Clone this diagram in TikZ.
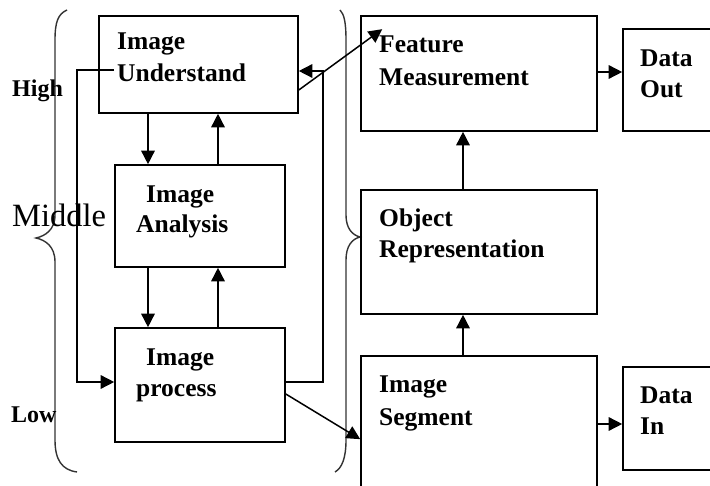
\documentclass[tikz,border=0pt]{standalone}
\usepackage{fontspec}
\setmainfont{Liberation Serif}
\usetikzlibrary{arrows.meta}
\tikzset{
  box/.style={draw=black, line width=1.6pt, inner sep=0pt, fill=none},
  lbl/.style={font=\bfseries\fontsize{25.5}{30}\selectfont, anchor=base west, inner sep=0pt, text=black},
  side/.style={font=\bfseries\fontsize{24}{28}\selectfont, anchor=base west, inner sep=0pt, text=black},
  sidemid/.style={font=\fontsize{32.5}{38}\selectfont, anchor=base west, inner sep=0pt, text=black},
  arr/.style={draw=black, line width=1.5pt, -{Triangle[length=13.5pt,width=13.5pt]}},
  brace/.style={draw=black!80, line width=1.4pt},
}
\begin{document}
\begin{tikzpicture}[x=1pt,y=-1pt]
\useasboundingbox (0,0) rectangle (710,486);
\clip (0,0) rectangle (710,486);
\fill[white] (0,0) rectangle (710,486);

% braces
\draw[brace] (67,10) .. controls (58,14) and (55,22) .. (55,40) -- (55,215)
  .. controls (55,230) and (45,236) .. (36,238)
  .. controls (45,240) and (55,246) .. (55,262) -- (55,440)
  .. controls (55,460) and (62,470) .. (77,472);
\draw[brace] (340,10) .. controls (344,14) and (346,22) .. (346,40) -- (346,215)
  .. controls (346,228) and (352,235) .. (360,237)
  .. controls (352,239) and (346,246) .. (346,260) -- (346,440)
  .. controls (346,458) and (342,468) .. (335,472);

% boxes
\node[box, minimum width=199pt, minimum height=97pt] (und) at (198.5,64.5) {};
\node[box, minimum width=170pt, minimum height=102pt] (ana) at (200,216) {};
\node[box, minimum width=170pt, minimum height=114pt] (proc) at (200,385) {};
\node[box, minimum width=236pt, minimum height=115pt] (feat) at (479,73.5) {};
\node[box, minimum width=97pt, minimum height=102pt] (out) at (671.5,80) {};
\node[box, minimum width=236pt, minimum height=124pt] (obj) at (479,252) {};
\node[box, minimum width=236pt, minimum height=144pt] (seg) at (479,428) {};
\node[box, minimum width=97pt, minimum height=103pt] (din) at (671.5,418.5) {};

% texts
\node[lbl] (t1a) at (117,50) {Image};
\node[lbl] (t1b) at (117,82) {Understand};
\node[lbl] (t2a) at (146,203) {Image};
\node[lbl] (t2b) at (136,233) {Analysis};
\node[lbl] (t3a) at (146,366) {Image};
\node[lbl] (t3b) at (136,396) {process};
\node[lbl] (t4a) at (379,53) {Feature};
\node[lbl] (t4b) at (379,86) {Measurement};
\node[lbl] (t5a) at (640,67) {Data};
\node[lbl] (t5b) at (640,98) {Out};
\node[lbl] (t6a) at (379,227) {Object};
\node[lbl] (t6b) at (379,258) {Representation};
\node[lbl] (t7a) at (379,393) {Image};
\node[lbl] (t7b) at (379,425) {Segment};
\node[lbl] (t8a) at (640,403) {Data};
\node[lbl] (t8b) at (640,435) {In};
\node[side] (high) at (12,97) {High};
\node[sidemid] (mid) at (12,227) {Middle};
\node[side] (low) at (11,423) {Low};

% helper coordinates
\coordinate (c148) at (148,0);
\coordinate (c218) at (218,0);
\coordinate (c463) at (463,0);
\coordinate (c72) at (0,72);
\coordinate (c424) at (0,424);
\coordinate (lx) at (77,0);
\coordinate (rx) at (323,0);
\coordinate (lstart) at (114,70);
\coordinate (pin) at ([yshift=3pt]proc.west);
\coordinate (pout) at ([yshift=3pt]proc.east);
\coordinate (uin) at ([yshift=-6.5pt]und.east);

% connectors
\draw[arr] (und.south -| c148) -- (ana.north -| c148);
\draw[arr] (ana.north -| c218) -- (und.south -| c218);
\draw[arr] (ana.south -| c148) -- (proc.north -| c148);
\draw[arr] (proc.north -| c218) -- (ana.south -| c218);
\draw[arr] (lstart) -| (lx |- pin) -- (pin);
\draw[arr] (pout) -| (rx |- uin) -- (uin);
\draw[arr] ([yshift=-25.5pt]und.east) -- ([xshift=22pt,yshift=-14pt]feat.north west);
\draw[arr] ([yshift=-9pt]proc.east) -- ([yshift=-84pt]seg.north west);
\draw[arr] (feat.east |- c72) -- (out.west |- c72);
\draw[arr] (obj.north -| c463) -- (feat.south -| c463);
\draw[arr] (seg.north -| c463) -- (obj.south -| c463);
\draw[arr] (seg.east |- c424) -- (din.west |- c424);
\end{tikzpicture}
\end{document}
